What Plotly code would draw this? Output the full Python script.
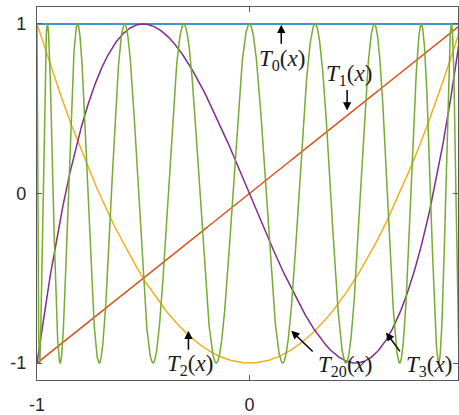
import numpy as np
import plotly.graph_objects as go

# polinomios de Chebyshev graficados
grados = [0, 1, 2, 3, 20]
colores = ['#0072BD', '#D95319', '#EDB120', '#7E2F8E', '#77AC30']
x = np.linspace(-1, 1, 4001)

# etiquetas con flecha: centro del texto, cola y punta de la flecha (en datos)
etiquetas = ['<i>T</i><sub>0</sub>(<i>x</i>)', '<i>T</i><sub>1</sub>(<i>x</i>)',
             '<i>T</i><sub>2</sub>(<i>x</i>)', '<i>T</i><sub>20</sub>(<i>x</i>)',
             '<i>T</i><sub>3</sub>(<i>x</i>)']
texto_x = [0.154, 0.469, -0.282, 0.451, 0.845]
texto_y = [0.79, 0.70, -1.01, -1.02, -1.02]
cola_x = [0.150, 0.460, -0.287, 0.305, 0.714]
cola_y = [0.875, 0.62, -0.93, -0.94, -0.94]
punta_x = [0.150, 0.460, -0.287, 0.197, 0.643]
punta_y = [0.995, 0.49, -0.81, -0.81, -0.82]

fig = go.Figure()

for n, c in zip(grados, colores):
    fig.add_trace(go.Scatter(
        x=x, y=np.cos(n * np.arccos(x)),
        mode='lines', line=dict(color=c, width=1.5),
        showlegend=False, hoverinfo='skip'))

for i in range(len(etiquetas)):
    # flecha
    fig.add_annotation(
        x=punta_x[i], y=punta_y[i], ax=cola_x[i], ay=cola_y[i],
        xref='x', yref='y', axref='x', ayref='y',
        text='', showarrow=True, arrowhead=2, arrowsize=1.1,
        arrowwidth=1.5, arrowcolor='black')
    # texto
    fig.add_annotation(
        x=texto_x[i], y=texto_y[i], xref='x', yref='y',
        text=etiquetas[i], showarrow=False,
        font=dict(family='Liberation Serif, serif', size=23, color='#1a1a1a'))

eje = dict(showline=True, linecolor='#595959', linewidth=1.2, mirror='ticks',
           ticks='inside', ticklen=5, tickcolor='#595959', showgrid=False,
           zeroline=False, tickfont=dict(family='Liberation Sans, Arial', size=18, color='#262626'))

fig.update_layout(
    width=459, height=415,
    margin=dict(l=37, r=0, t=7, b=33),
    plot_bgcolor='white', paper_bgcolor='white',
    xaxis=dict(range=[-1, 0.982], tickvals=[-1, 0, 1], ticktext=['-1', '0', '1'],
               ticklabelstandoff=8, **eje),
    yaxis=dict(range=[-1.1, 1.1], tickvals=[-1, 0, 1], ticktext=['-1', '0', '1'],
               ticklabelstandoff=6, **eje),
)

fig.write_html("out.html", config={'displayModeBar': False},
               post_script="document.body.style.margin='0';")
